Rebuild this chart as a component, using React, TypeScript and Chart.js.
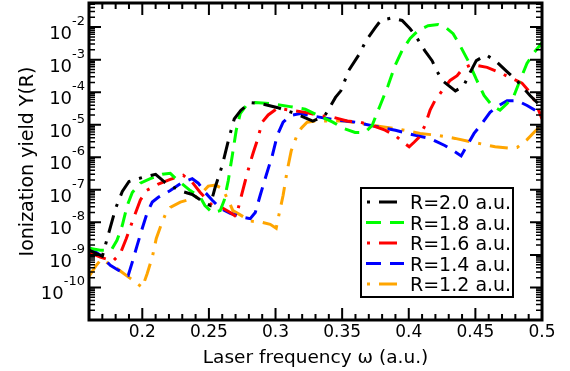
import React, { useEffect, useRef } from "react";
import { Chart, registerables } from "chart.js";

Chart.register(...registerables);

const FONT = "'DejaVu Sans', 'Liberation Sans', sans-serif";

// [laser frequency ω (a.u.), ionization yield]
const seriesR20: [number, number][] = [
  [0.16, 1.4e-9], [0.17, 9.1e-10], [0.175, 5.0e-9], [0.18, 2.7e-8], [0.185, 8.9e-8],
  [0.19, 1.8e-7], [0.2, 2.4e-7], [0.21, 3.0e-7], [0.217, 1.7e-7], [0.228, 9.5e-8],
  [0.2375, 7.2e-8], [0.247, 3.9e-8], [0.251, 3.3e-8], [0.2547, 1.2e-7], [0.26, 5.6e-7],
  [0.265, 3.8e-6], [0.269, 1.5e-5], [0.274, 2.8e-5], [0.281, 4.8e-5], [0.2885, 4.5e-5],
  [0.301, 3.4e-5], [0.315, 2.2e-5], [0.328, 1.3e-5], [0.337, 1.9e-5], [0.345, 6.9e-5],
  [0.349, 1.1e-4], [0.355, 4.7e-4], [0.363, 1.5e-3], [0.368, 3.9e-3], [0.375, 9.8e-3],
  [0.379, 1.6e-2], [0.387, 1.9e-2], [0.395, 1.6e-2], [0.401, 8.9e-3], [0.405, 5.5e-3],
  [0.412, 1.9e-3], [0.4175, 9.3e-4], [0.421, 4.6e-4], [0.425, 2.3e-4], [0.435, 1.1e-4],
  [0.441, 1.5e-4], [0.446, 4.0e-4], [0.4507, 9.3e-4], [0.458, 1.4e-3], [0.465, 9.3e-4],
  [0.4745, 4.0e-4], [0.481, 2.3e-4], [0.491, 7.9e-5], [0.5, 3.4e-5],
];

const seriesR18: [number, number][] = [
  [0.16, 1.6e-9], [0.1685, 1.4e-9], [0.1767, 1.4e-9], [0.181, 2.8e-9], [0.185, 8.1e-9],
  [0.1887, 3.3e-8], [0.1925, 8.3e-8], [0.1985, 1.6e-7], [0.206, 2.2e-7], [0.215, 3.0e-7],
  [0.221, 3.2e-7], [0.227, 1.9e-7], [0.236, 9.5e-8], [0.2435, 5.9e-8], [0.247, 3.3e-8],
  [0.2525, 2.0e-8], [0.2585, 2.3e-8], [0.2615, 4.8e-8], [0.2645, 1.9e-7], [0.2675, 1.1e-6],
  [0.2705, 6.8e-6], [0.2735, 2.2e-5], [0.278, 3.9e-5], [0.2848, 4.8e-5], [0.296, 4.5e-5],
  [0.311, 3.6e-5], [0.3223, 3.0e-5], [0.3335, 1.8e-5], [0.343, 1.2e-5], [0.3508, 7.8e-6],
  [0.3597, 5.8e-6], [0.3672, 5.8e-6], [0.3725, 9.5e-6], [0.3785, 3.9e-5], [0.3845, 1.6e-4],
  [0.3897, 6.6e-4], [0.395, 1.9e-3], [0.401, 4.5e-3], [0.407, 7.8e-3], [0.4145, 1.1e-2],
  [0.422, 1.2e-2], [0.428, 9.5e-3], [0.4333, 6.3e-3], [0.4385, 2.7e-3], [0.4445, 9.3e-4],
  [0.4505, 2.6e-4], [0.4565, 7.9e-5], [0.4625, 3.9e-5], [0.4685, 2.8e-5], [0.4738, 4.5e-5],
  [0.479, 7.9e-5], [0.4835, 2.3e-4], [0.4887, 7.6e-4], [0.4933, 1.5e-3], [0.5, 3.3e-3],
];

const seriesR16: [number, number][] = [
  [0.16, 1.2e-9], [0.1685, 8.5e-10], [0.178, 6.5e-10], [0.1835, 1.1e-9], [0.188, 3.2e-9],
  [0.1933, 1.3e-8], [0.1985, 4.8e-8], [0.203, 9.5e-8], [0.212, 1.5e-7], [0.221, 2.1e-7],
  [0.2307, 2.8e-7], [0.2375, 1.7e-7], [0.2435, 8.3e-8], [0.2488, 4.8e-8], [0.2525, 3.3e-8],
  [0.26, 2.8e-8], [0.266, 2.0e-8], [0.2705, 1.5e-8], [0.2735, 4.8e-8], [0.2773, 1.9e-7],
  [0.281, 6.9e-7], [0.2833, 1.4e-6], [0.2863, 3.3e-6], [0.29, 1.2e-5], [0.2945, 2.0e-5],
  [0.3013, 3.2e-5], [0.311, 2.8e-5], [0.3223, 2.4e-5], [0.3335, 1.9e-5], [0.3433, 1.7e-5],
  [0.3537, 1.3e-5], [0.3635, 1.2e-5], [0.3725, 9.5e-6], [0.3822, 6.8e-6], [0.3897, 4.7e-6],
  [0.3957, 2.9e-6], [0.4003, 2.1e-6], [0.404, 2.9e-6], [0.4077, 4.1e-6], [0.4122, 9.5e-6],
  [0.416, 2.8e-5], [0.4197, 5.6e-5], [0.425, 1.1e-4], [0.431, 2.3e-4], [0.4363, 3.2e-4],
  [0.4407, 5.4e-4], [0.4475, 7.1e-4], [0.4588, 5.8e-4], [0.4685, 4.0e-4], [0.476, 2.8e-4],
  [0.485, 1.9e-4], [0.491, 9.8e-5], [0.4955, 4.5e-5], [0.5, 1.5e-5],
];

const seriesR14: [number, number][] = [
  [0.16, 1.7e-9], [0.1685, 9.8e-10], [0.176, 4.8e-10], [0.182, 3.4e-10], [0.1895, 2.4e-10],
  [0.1925, 6.0e-10], [0.1962, 2.0e-9], [0.2, 6.6e-9], [0.2037, 2.0e-8], [0.2075, 4.2e-8],
  [0.212, 5.9e-8], [0.221, 9.5e-8], [0.23, 1.7e-7], [0.2375, 2.2e-7], [0.242, 1.6e-7],
  [0.2472, 8.3e-8], [0.2525, 4.8e-8], [0.2585, 2.7e-8], [0.266, 1.9e-8], [0.2735, 1.5e-8],
  [0.281, 1.3e-8], [0.2848, 2.0e-8], [0.2885, 6.8e-8], [0.293, 2.8e-7], [0.2975, 1.1e-6],
  [0.3013, 4.7e-6], [0.3057, 1.2e-5], [0.311, 1.9e-5], [0.3185, 2.2e-5], [0.33, 1.8e-5],
  [0.345, 1.4e-5], [0.36, 1.2e-5], [0.375, 8.9e-6], [0.39, 6.8e-6], [0.405, 4.7e-6],
  [0.416, 3.8e-6], [0.427, 2.3e-6], [0.4333, 1.6e-6], [0.4393, 1.1e-6], [0.4438, 2.3e-6],
  [0.449, 5.4e-6], [0.455, 1.1e-5], [0.461, 2.4e-5], [0.4663, 3.6e-5], [0.4738, 5.5e-5],
  [0.4813, 5.5e-5], [0.4888, 3.9e-5], [0.4948, 2.8e-5], [0.5, 1.7e-5],
];

const seriesR12: [number, number][] = [
  [0.16, 2.2e-10], [0.1655, 4.8e-10], [0.1692, 7.4e-10], [0.1745, 5.5e-10], [0.1797, 4.2e-10],
  [0.1835, 3.2e-10], [0.191, 1.9e-10], [0.2, 1.0e-10], [0.2037, 2.7e-10], [0.2075, 8.5e-10],
  [0.2105, 3.2e-9], [0.2135, 7.1e-9], [0.2172, 1.7e-8], [0.221, 2.9e-8], [0.2285, 4.2e-8],
  [0.236, 5.1e-8], [0.2413, 6.3e-8], [0.2458, 8.9e-8], [0.2495, 1.3e-7], [0.255, 1.4e-7],
  [0.26, 1.1e-7], [0.2645, 4.8e-8], [0.268, 2.3e-8], [0.2735, 1.7e-8], [0.281, 1.1e-8],
  [0.29, 1.0e-8], [0.296, 8.7e-9], [0.3005, 6.6e-9], [0.3028, 1.9e-8], [0.3057, 6.8e-8],
  [0.3088, 4.0e-7], [0.3118, 1.6e-6], [0.3155, 4.1e-6], [0.3193, 7.8e-6], [0.3237, 1.2e-5],
  [0.33, 1.3e-5], [0.3373, 1.3e-5], [0.3523, 1.3e-5], [0.3635, 1.1e-5], [0.3785, 8.9e-6],
  [0.3935, 7.2e-6], [0.4085, 5.4e-6], [0.422, 4.7e-6], [0.4348, 3.8e-6], [0.452, 2.7e-6],
  [0.4648, 2.1e-6], [0.476, 1.9e-6], [0.4813, 2.0e-6], [0.4888, 3.5e-6], [0.4948, 6.3e-6],
  [0.5, 1.0e-5],
];

const SERIES = [seriesR20, seriesR18, seriesR16, seriesR14, seriesR12];
const SERIES_LABELS = ["R=2.0 a.u.", "R=1.8 a.u.", "R=1.6 a.u.", "R=1.4 a.u.", "R=1.2 a.u."];
const SERIES_COLORS = ["#000000", "#00ff00", "#ff0000", "#0000ff", "#ffa500"];
const DASH_DOT = [18, 9, 3, 9];
const DASHED = [15, 9];
const SERIES_DASHES = [DASH_DOT, DASHED, DASH_DOT, DASHED, DASH_DOT];

const X_MIN = 0.16;
const X_MAX = 0.5;
const Y_MIN = 1e-11;
const Y_MAX = 0.055;
const X_TICK_VALUES = [0.2, 0.25, 0.3, 0.35, 0.4, 0.45, 0.5];
const X_TICK_LABELS = ["0.2", "0.25", "0.3", "0.35", "0.4", "0.45", "0.5"];
const Y_TICK_EXPONENTS = [-10, -9, -8, -7, -6, -5, -4, -3, -2];

const X_TITLE = "Laser frequency \u03c9 (a.u.)";
const Y_TITLE = "Ionization yield Y(R)";

const decorPlugin = {
  id: "decor",
  afterDraw(chart: any) {
    const ctx = chart.ctx as CanvasRenderingContext2D;
    const ca = chart.chartArea;
    const xs = chart.scales.x;
    const ys = chart.scales.y;
    ctx.save();
    ctx.strokeStyle = "#000";
    ctx.fillStyle = "#000";

    // ticks (inward, all four sides)
    ctx.lineWidth = 2;
    ctx.setLineDash([]);
    for (let i = 16; i <= 50; i++) {
      const v = i / 100;
      const px = xs.getPixelForValue(v);
      const len = i % 5 === 0 ? 12 : 6;
      ctx.beginPath();
      ctx.moveTo(px, ca.bottom);
      ctx.lineTo(px, ca.bottom - len);
      ctx.moveTo(px, ca.top);
      ctx.lineTo(px, ca.top + len);
      ctx.stroke();
    }
    for (let e = -11; e <= -1; e++) {
      for (let m = 1; m <= 9; m++) {
        const v = m * Math.pow(10, e);
        if (v < Y_MIN * 0.999 || v > Y_MAX) continue;
        const py = ys.getPixelForValue(v);
        const len = m === 1 ? 12 : 6;
        ctx.lineWidth = m === 1 ? 2 : 1.5;
        ctx.beginPath();
        ctx.moveTo(ca.left, py);
        ctx.lineTo(ca.left + len, py);
        ctx.moveTo(ca.right, py);
        ctx.lineTo(ca.right - len, py);
        ctx.stroke();
      }
    }

    // frame
    ctx.lineWidth = 3;
    ctx.strokeRect(ca.left, ca.top, ca.right - ca.left, ca.bottom - ca.top);

    // x tick labels
    ctx.font = `17px ${FONT}`;
    ctx.textAlign = "center";
    ctx.textBaseline = "alphabetic";
    X_TICK_VALUES.forEach((v, i) => {
      ctx.fillText(X_TICK_LABELS[i], xs.getPixelForValue(v), 337);
    });

    // x title
    ctx.font = `18.5px ${FONT}`;
    ctx.fillText(X_TITLE, (ca.left + ca.right) / 2, 363);

    // y tick labels 10^n
    ctx.textAlign = "right";
    Y_TICK_EXPONENTS.forEach((ex) => {
      const py = ys.getPixelForValue(Math.pow(10, ex));
      const sup = String(ex);
      ctx.font = `13px ${FONT}`;
      const supW = ctx.measureText(sup).width;
      ctx.fillText(sup, 85, py - 2);
      ctx.font = `18px ${FONT}`;
      ctx.fillText("10", 85 - supW, py + 12);
    });

    // y title
    ctx.save();
    ctx.translate(33, (ca.top + ca.bottom) / 2);
    ctx.rotate(-Math.PI / 2);
    ctx.textAlign = "center";
    ctx.font = `19px ${FONT}`;
    ctx.fillText(Y_TITLE, 0, 0);
    ctx.restore();

    // legend
    const bx = 361, by = 188, bw = 152, bh = 109;
    ctx.fillStyle = "#fff";
    ctx.fillRect(bx, by, bw, bh);
    ctx.lineWidth = 2;
    ctx.strokeStyle = "#000";
    ctx.strokeRect(bx, by, bw, bh);
    SERIES_LABELS.forEach((label, i) => {
      const ry = 202 + i * 20.5;
      ctx.strokeStyle = SERIES_COLORS[i];
      ctx.lineWidth = 3;
      const dash = SERIES_DASHES[i];
      ctx.setLineDash(dash);
      ctx.lineDashOffset = dash.length === 4 ? dash[0] + dash[1] : 0;
      ctx.beginPath();
      ctx.moveTo(dash.length === 4 ? 367 : 366, ry);
      ctx.lineTo(dash.length === 4 ? 398 : 404, ry);
      ctx.stroke();
      ctx.setLineDash([]);
      ctx.lineDashOffset = 0;
      ctx.fillStyle = "#000";
      ctx.font = `19px ${FONT}`;
      ctx.textAlign = "left";
      ctx.fillText(label, 410, ry + 7);
    });
    ctx.restore();
  },
};

export default function App() {
  const canvasRef = useRef<HTMLCanvasElement | null>(null);

  useEffect(() => {
    if (!canvasRef.current) return;
    const chart = new Chart(canvasRef.current, {
      type: "line",
      data: {
        datasets: SERIES.map((s, i) => ({
          label: SERIES_LABELS[i],
          data: s.map(([x, y]) => ({ x, y })),
          borderColor: SERIES_COLORS[i],
          backgroundColor: SERIES_COLORS[i],
          borderWidth: 3,
          borderDash: SERIES_DASHES[i],
          borderCapStyle: "butt",
          pointRadius: 0,
          fill: false,
          tension: 0,
        })),
      },
      options: {
        responsive: false,
        animation: false,
        events: [],
        layout: { padding: { left: 89, right: 28, top: 3, bottom: 51 } },
        plugins: { legend: { display: false }, tooltip: { enabled: false } },
        scales: {
          x: { type: "linear", min: X_MIN, max: X_MAX, display: false },
          y: { type: "logarithmic", min: Y_MIN, max: Y_MAX, display: false },
        },
      },
      plugins: [decorPlugin],
    } as any);
    return () => chart.destroy();
  }, []);

  return (
    <div style={{ position: "fixed", left: 0, top: 0, width: 570, height: 371, background: "#fff" }}>
      <canvas ref={canvasRef} width={570} height={371} style={{ width: 570, height: 371, display: "block" }} />
    </div>
  );
}
